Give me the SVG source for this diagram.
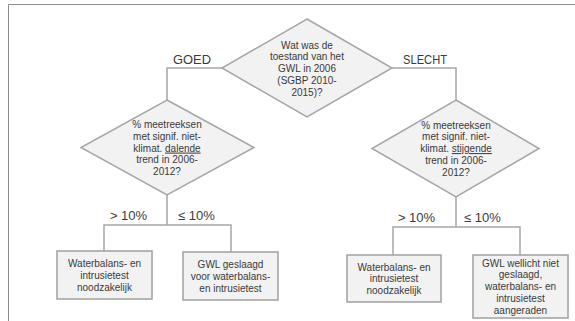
<svg xmlns="http://www.w3.org/2000/svg" width="575" height="321" viewBox="0 0 575 321">
<style>
.frame{fill:none;stroke:#8c8c8c;stroke-width:1}
.dia{fill:#f2f2f2;stroke:#a6a6a6;stroke-width:1.5}
.box{fill:#f2f2f2;stroke:#a0a0a0;stroke-width:1.5}
.conn path{fill:none;stroke:#a6a6a6;stroke-width:1.5}
.t{font-family:"Liberation Sans",Arial,sans-serif;font-size:10px;fill:#3a3a3a;text-anchor:middle}
.lbl{font-family:"Liberation Sans",Arial,sans-serif;font-size:13px;fill:#3a3a3a;text-anchor:middle}
.u{text-decoration:underline}
</style>
<rect width="575" height="321" fill="#ffffff"/>
<path class="frame" d="M8.5,321 V4.5 H575"/>
<g class="conn" id="connectors">
<path d="M222,68 H167 V100"/>
<path d="M392,68 H456 V100"/>
<path d="M167,195 V225 M104,251 V225 H231 V252"/>
<path d="M456,197 V227 M393,255 V227 H520 V255"/>
<text class="lbl" x="192" y="64" textLength="38" lengthAdjust="spacingAndGlyphs">GOED</text>
<text class="lbl" x="425" y="64" textLength="44" lengthAdjust="spacingAndGlyphs">SLECHT</text>
<text class="lbl" x="128.5" y="220">&gt; 10%</text>
<text class="lbl" x="196.5" y="220">≤ 10%</text>
<text class="lbl" x="416.5" y="222">&gt; 10%</text>
<text class="lbl" x="482.5" y="222">≤ 10%</text>
</g>
<g id="q1">
<polygon class="dia" points="307,19 392,68 307,117 222,68"/>
<text class="t" x="307" y="48.5">Wat was de</text>
<text class="t" x="307" y="60.3">toestand van het</text>
<text class="t" x="307" y="72.1">GWL in 2006</text>
<text class="t" x="307" y="83.9">(SGBP 2010-</text>
<text class="t" x="307" y="95.7">2015)?</text>
</g>
<g id="q2">
<polygon class="dia" points="167,100 254,147.5 167,195 81,147.5"/>
<text class="t" x="167" y="128">% meetreeksen</text>
<text class="t" x="167" y="139.8">met signif. niet-</text>
<text class="t" x="167" y="151.6">klimat. <tspan class="u">dalende</tspan></text>
<text class="t" x="167" y="163.4">trend in 2006-</text>
<text class="t" x="167" y="175.2">2012?</text>
</g>
<g id="q3">
<polygon class="dia" points="456,100 539,148.5 456,197 372,148.5"/>
<text class="t" x="456" y="128.5">% meetreeksen</text>
<text class="t" x="456" y="140.3">met signif. niet-</text>
<text class="t" x="456" y="152.1">klimat. <tspan class="u">stijgende</tspan></text>
<text class="t" x="456" y="163.9">trend in 2006-</text>
<text class="t" x="456" y="175.7">2012?</text>
</g>
<g id="r1">
<rect class="box" x="57" y="251" width="95" height="48"/>
<text class="t" x="104.5" y="267">Waterbalans- en</text>
<text class="t" x="104.5" y="279">intrusietest</text>
<text class="t" x="104.5" y="291">noodzakelijk</text>
</g>
<g id="r2">
<rect class="box" x="183" y="252" width="95" height="48"/>
<text class="t" x="230.5" y="268">GWL geslaagd</text>
<text class="t" x="230.5" y="280">voor waterbalans-</text>
<text class="t" x="230.5" y="292">en intrusietest</text>
</g>
<g id="r3">
<rect class="box" x="347" y="255" width="94" height="47"/>
<text class="t" x="394" y="270.5">Waterbalans- en</text>
<text class="t" x="394" y="282">intrusietest</text>
<text class="t" x="394" y="293.5">noodzakelijk</text>
</g>
<g id="r4">
<rect class="box" x="473" y="255" width="95" height="63"/>
<text class="t" x="520.5" y="266.5">GWL wellicht niet</text>
<text class="t" x="520.5" y="278.3">geslaagd,</text>
<text class="t" x="520.5" y="290.1">waterbalans- en</text>
<text class="t" x="520.5" y="301.9">intrusietest</text>
<text class="t" x="520.5" y="313.7">aangeraden</text>
</g>
</svg>
